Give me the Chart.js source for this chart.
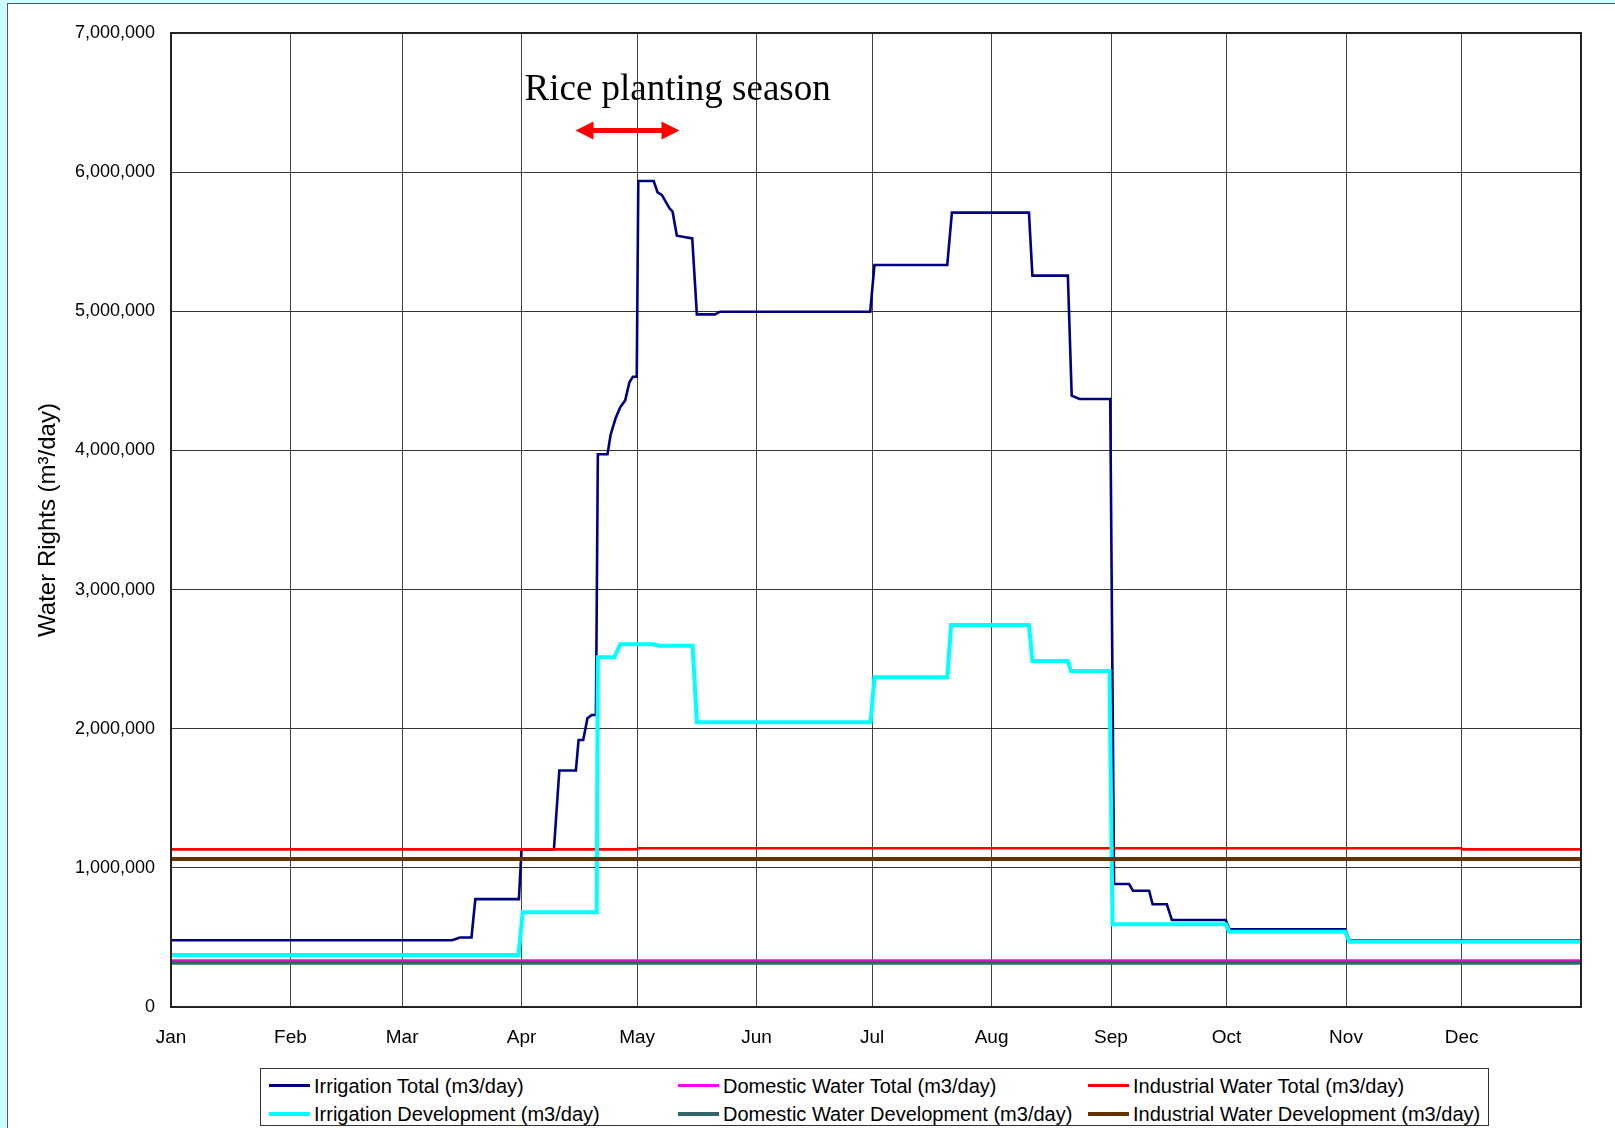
<!DOCTYPE html>
<html>
<head>
<meta charset="utf-8">
<script src="https://cdn.jsdelivr.net/npm/chart.js@4/dist/chart.umd.min.js"></script>
<style>
	body { margin: 0; width: 1615px; height: 1128px; background: #ccffff; overflow: hidden; position: relative; }
	#panel { position: absolute; left: 7px; top: 3px; right: 0; bottom: 0; background: #fff; border-left: 1px solid #555; border-top: 1px solid #555; }
	#wrap { position: absolute; left: 0; top: 0; width: 1615px; height: 1060px; }
	#legend { position: absolute; left: 260px; top: 1068px; width: 1229px; height: 58px; border: 1px solid #333; box-sizing: border-box; }
	.item { position: absolute; font-family: "Liberation Sans", Arial, sans-serif; font-size: 20px; color: #000; white-space: nowrap; }
	.swatch { position: absolute; width: 41px; }
</style>
</head>
<body>
<div id="panel"></div>
<div id="wrap"><canvas id="chart01"></canvas></div>
<div id="legend"></div>
<script>
// x values are day of the year (Jan 1 = 0), leap year
const monthStarts = [0, 31, 60, 91, 121, 152, 182, 213, 244, 274, 305, 335];
const monthLabels = ["Jan", "Feb", "Mar", "Apr", "May", "Jun", "Jul", "Aug", "Sep", "Oct", "Nov", "Dec"];
const yearEnd = 366;

const irrTotalDays = [0, 73, 75, 78, 79, 90.3, 91, 99.4, 100.8, 105.1, 105.8, 107, 108.1, 109.2, 110.3, 110.8, 113.3, 114.1, 115.4, 116.6, 117.9, 119, 119.9, 120.9, 121.3, 125.3, 126.3, 127.4, 129.4, 130.2, 131.3, 135.3, 136.5, 141.2, 142.5, 181.5, 182.6, 201.5, 202.7, 222.7, 223.6, 232.8, 233.8, 235.8, 243.8, 244.8, 248.7, 249.7, 253.9, 254.8, 258.5, 259.8, 273.8, 274.7, 304.8, 305.9, 366];
const irrTotalValues = [480000, 480000, 500000, 500000, 775000, 775000, 1133000, 1133000, 1700000, 1700000, 1919000, 1919000, 2075000, 2099000, 2099000, 3972000, 3972000, 4111000, 4231000, 4310000, 4360000, 4490000, 4530000, 4530000, 5936000, 5936000, 5855000, 5836000, 5740000, 5716000, 5543000, 5524000, 4978000, 4978000, 4997000, 4997000, 5333000, 5333000, 5709000, 5709000, 5256000, 5256000, 4393000, 4370000, 4370000, 884000, 884000, 836000, 836000, 738000, 738000, 625000, 625000, 558000, 558000, 477000, 477000];

const irrDevDays = [0, 90.2, 91.3, 110.5, 110.8, 115.1, 116.6, 125.2, 126.5, 135.4, 136.5, 181.6, 182.6, 201.5, 202.5, 222.7, 223.6, 232.8, 233.6, 243.6, 244.4, 273.8, 274.7, 304.8, 305.9, 366];
const irrDevValues = [374000, 374000, 681000, 681000, 2513000, 2513000, 2607000, 2607000, 2597000, 2597000, 2046000, 2046000, 2370000, 2370000, 2745000, 2745000, 2487000, 2487000, 2415000, 2415000, 594000, 594000, 541000, 541000, 469000, 469000];

const domTotalDays = [0, 366];
const domTotalValues = [335000, 335000];

const domDevDays = [0, 366];
const domDevValues = [318000, 318000];

const indTotalDays = [0, 120.9, 121.3, 334.9, 335.3, 366];
const indTotalValues = [1133000, 1133000, 1141000, 1141000, 1133000, 1133000];

const indDevDays = [0, 366];
const indDevValues = [1064000, 1064000];

// rice planting season note (day range and level)
const riceText = "Rice planting season";
const riceFrom = 105;
const riceTo = 132;
const riceArrowLevel = 6300000;
const riceTextDay = 131.5;
const riceTextLevel = 6519000;

const toPoints = (days, values) => days.map((d, i) => ({ x: d, y: values[i] }));

const series = [
	{ label: "Irrigation Total (m3/day)", days: irrTotalDays, values: irrTotalValues, color: "#000080", width: 2.6, order: 6, col: 0, row: 0 },
	{ label: "Domestic Water Total (m3/day)", days: domTotalDays, values: domTotalValues, color: "#ff00ff", width: 2.2, order: 5, col: 1, row: 0 },
	{ label: "Industrial Water Total (m3/day)", days: indTotalDays, values: indTotalValues, color: "#ff0000", width: 2.6, order: 4, col: 2, row: 0 },
	{ label: "Irrigation Development (m3/day)", days: irrDevDays, values: irrDevValues, color: "#00ffff", width: 4, order: 3, col: 0, row: 1 },
	{ label: "Domestic Water Development (m3/day)", days: domDevDays, values: domDevValues, color: "#336666", width: 4, order: 2, col: 1, row: 1 },
	{ label: "Industrial Water Development (m3/day)", days: indDevDays, values: indDevValues, color: "#663300", width: 4, order: 1, col: 2, row: 1 },
];

const datasets = series.map((s) => ({
	label: s.label,
	data: toPoints(s.days, s.values),
	borderColor: s.color,
	backgroundColor: s.color,
	borderWidth: s.width,
	order: s.order,
	pointRadius: 0,
	tension: 0,
	fill: false,
}));

const notePlugin = {
	id: "note",
	afterDatasetsDraw(chart) {
		const { ctx, chartArea, scales } = chart;
		const x = scales.x;
		const y = scales.y;

		// frame
		ctx.save();
		ctx.strokeStyle = "#222";
		ctx.lineWidth = 2;
		ctx.strokeRect(chartArea.left, chartArea.top, chartArea.right - chartArea.left, chartArea.bottom - chartArea.top);

		// text
		ctx.fillStyle = "#000";
		ctx.font = "37px 'Liberation Serif', 'Times New Roman', serif";
		ctx.textAlign = "center";
		ctx.textBaseline = "alphabetic";
		ctx.fillText(riceText, x.getPixelForValue(riceTextDay), y.getPixelForValue(riceTextLevel));

		// double arrow
		const x1 = x.getPixelForValue(riceFrom);
		const x2 = x.getPixelForValue(riceTo);
		const ay = y.getPixelForValue(riceArrowLevel);
		const head = 18;
		const half = 9;
		ctx.strokeStyle = "#ff0000";
		ctx.fillStyle = "#ff0000";
		ctx.lineWidth = 5;
		ctx.beginPath();
		ctx.moveTo(x1 + head - 2, ay);
		ctx.lineTo(x2 - head + 2, ay);
		ctx.stroke();
		ctx.beginPath();
		ctx.moveTo(x1, ay);
		ctx.lineTo(x1 + head, ay - half);
		ctx.lineTo(x1 + head, ay + half);
		ctx.closePath();
		ctx.fill();
		ctx.beginPath();
		ctx.moveTo(x2, ay);
		ctx.lineTo(x2 - head, ay - half);
		ctx.lineTo(x2 - head, ay + half);
		ctx.closePath();
		ctx.fill();
		ctx.restore();
	},
};

const options = {
	responsive: true,
	maintainAspectRatio: false,
	animation: false,
	events: [],
	layout: {
		padding: { left: 0, top: 33, right: 34, bottom: 0 },
	},
	plugins: {
		legend: { display: false },
		tooltip: { enabled: false },
	},
	scales: {
		x: {
			type: "linear",
			min: 0,
			max: yearEnd,
			afterBuildTicks: (scale) => {
				scale.ticks = monthStarts.map((v) => ({ value: v })).concat([{ value: yearEnd }]);
			},
			afterFit: (scale) => {
				scale.height = 53;
			},
			ticks: {
				autoSkip: false,
				maxRotation: 0,
				padding: 19,
				color: "#000",
				font: { family: "'Liberation Sans', Arial, sans-serif", size: 19 },
				callback: (value) => {
					const i = monthStarts.indexOf(value);
					return i >= 0 ? monthLabels[i] : "";
				},
			},
			grid: { color: "#444", lineWidth: 1, drawTicks: false },
			border: { display: false },
		},
		y: {
			min: 0,
			max: 7000000,
			afterFit: (scale) => {
				scale.width = 171;
			},
			ticks: {
				stepSize: 1000000,
				padding: 16,
				color: "#000",
				font: { family: "'Liberation Sans', Arial, sans-serif", size: 18 },
				callback: (value) => value.toLocaleString("en-US"),
			},
			grid: { color: "#333", lineWidth: 1, drawTicks: false },
			border: { display: false },
			title: {
				display: true,
				text: "Water Rights (m³/day)",
				color: "#000",
				font: { family: "'Liberation Sans', Arial, sans-serif", size: 24 },
				padding: { top: 34, bottom: 0 },
			},
		},
	},
};

const config = {
	type: "line",
	data: { datasets },
	options,
	plugins: [notePlugin],
};

const chart = new Chart(document.querySelector("#chart01"), config);

// legend box below the chart, 3 columns x 2 rows
const legendBox = document.querySelector("#legend");
const colSwatchX = [8, 417, 827];
const rowCenterY = [16.5, 45];
series.forEach((s) => {
	const sw = document.createElement("div");
	sw.className = "swatch";
	sw.style.left = colSwatchX[s.col] + "px";
	sw.style.height = Math.max(3, s.width) + "px";
	sw.style.top = rowCenterY[s.row] - Math.max(3, s.width) / 2 + "px";
	sw.style.background = s.color;
	legendBox.appendChild(sw);

	const t = document.createElement("div");
	t.className = "item";
	t.textContent = s.label;
	t.style.left = colSwatchX[s.col] + 45 + "px";
	t.style.top = rowCenterY[s.row] - 12 + "px";
	t.style.lineHeight = "24px";
	legendBox.appendChild(t);
});
</script>
</body>
</html>
